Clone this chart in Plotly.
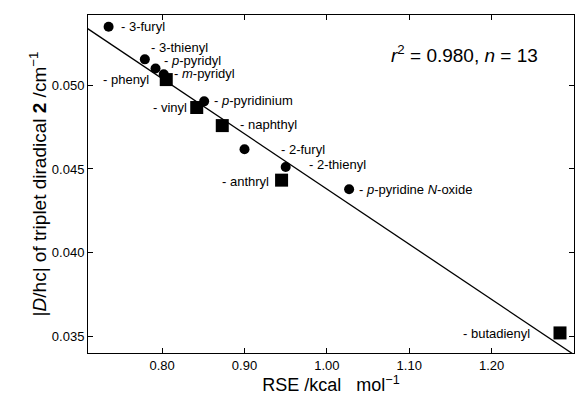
import plotly.graph_objects as go

# ---- data ----
circle_names = ["3-furyl", "3-thienyl", "<i>p</i>-pyridyl", "<i>m</i>-pyridyl",
                "<i>p</i>-pyridinium", "2-furyl", "2-thienyl", "<i>p</i>-pyridine <i>N</i>-oxide"]
circle_rse = [0.735, 0.779, 0.792, 0.802, 0.851, 0.900, 0.950, 1.027]
circle_d = [0.0535, 0.05155, 0.0510, 0.05066, 0.04904, 0.04618, 0.04512, 0.04379]

square_names = ["phenyl", "vinyl", "naphthyl", "anthryl", "butadienyl"]
square_rse = [0.805, 0.842, 0.873, 0.945, 1.283]
square_d = [0.05034, 0.04867, 0.04759, 0.04433, 0.0352]

fit_slope = -0.0330
fit_intercept = 0.0768
fit_x = [0.70, 1.31]

x_ticks = [0.80, 0.90, 1.00, 1.10, 1.20]
x_ticklabels = ["0.80", "0.90", "1.00", "1.10", "1.20"]
y_ticks = [0.035, 0.040, 0.045, 0.050]
y_ticklabels = ["0.035", "0.040", "0.045", "0.050"]

# label placement (pixel offsets, anchor) -- layout only
circle_label_pos = [(10, 0, "left"), (4, 12, "left"), (6, 8, "left"), (8, 1, "left"),
                    (8, 1, "left"), (34, 0, "left"), (21, 2, "left"), (8, 0, "left")]
square_label_pos = [(-15, 0, "right"), (-8, 0, "right"), (16, 1, "left"), (-11, -1, "right"),
                    (-28, -1, "right")]

FONT = "Liberation Sans, Arial, Helvetica, sans-serif"
LABEL_SIZE = 13

fig = go.Figure()
fit_y = [fit_slope * x + fit_intercept for x in fit_x]
fig.add_trace(go.Scatter(x=fit_x, y=fit_y, mode="lines",
                         line=dict(color="black", width=1.3), hoverinfo="skip"))
fig.add_trace(go.Scatter(x=circle_rse, y=circle_d, mode="markers",
                         marker=dict(symbol="circle", size=10, color="black")))
fig.add_trace(go.Scatter(x=square_rse, y=square_d, mode="markers",
                         marker=dict(symbol="square", size=13, color="black")))

annotations = []
for name, x, y, (dx, dy, anc) in zip(circle_names, circle_rse, circle_d, circle_label_pos):
    annotations.append(dict(x=x, y=y, xref="x", yref="y", text="- " + name, showarrow=False,
                            xanchor=anc, yanchor="middle", xshift=dx, yshift=dy,
                            font=dict(family=FONT, size=LABEL_SIZE, color="black")))
for name, x, y, (dx, dy, anc) in zip(square_names, square_rse, square_d, square_label_pos):
    annotations.append(dict(x=x, y=y, xref="x", yref="y", text="- " + name, showarrow=False,
                            xanchor=anc, yanchor="middle", xshift=dx, yshift=dy,
                            font=dict(family=FONT, size=LABEL_SIZE, color="black")))
annotations.append(dict(x=0.93, y=0.885, xref="paper", yref="paper",
                        text="<i>r</i><sup>2</sup> = 0.980, <i>n</i> = 13", showarrow=False,
                        xanchor="right", yanchor="middle",
                        font=dict(family=FONT, size=19, color="black")))

fig.update_layout(
    width=575, height=400,
    margin=dict(l=88, r=1, t=15, b=47),
    paper_bgcolor="white", plot_bgcolor="white",
    showlegend=False,
    annotations=annotations,
    font=dict(family=FONT, color="black"),
)
fig.update_xaxes(range=[0.71, 1.30], tickvals=x_ticks, ticktext=x_ticklabels,
                 ticks="inside", ticklen=5, tickwidth=1, tickcolor="black",
                 showline=True, linecolor="black", linewidth=1, mirror="ticks",
                 showgrid=False, zeroline=False,
                 tickfont=dict(family=FONT, size=13),
                 title=dict(text="RSE /kcal&nbsp;&nbsp;&nbsp;mol<sup>\u22121</sup>", standoff=6,
                            font=dict(family=FONT, size=18)))
fig.update_yaxes(range=[0.0340, 0.0542], tickvals=y_ticks, ticktext=y_ticklabels,
                 ticks="inside", ticklen=5, tickwidth=1, tickcolor="black",
                 showline=True, linecolor="black", linewidth=1, mirror="ticks",
                 showgrid=False, zeroline=False,
                 tickfont=dict(family=FONT, size=13),
                 title=dict(text="|<i>D</i>/hc| of triplet diradical <b>2</b> /cm<sup>\u22121</sup>",
                            standoff=0, font=dict(family=FONT, size=19)))

fig.write_html("out.html")
